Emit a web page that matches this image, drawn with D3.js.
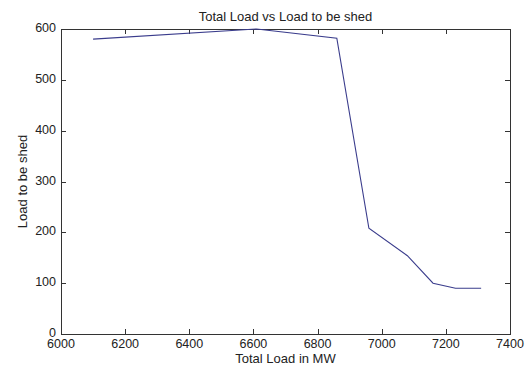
<!DOCTYPE html>
<html>
<head>
  <meta charset="utf-8">
  <script src="https://d3js.org/d3.v7.min.js"></script>
  <style>
    body { margin: 0; background: #fff; }
    text { font-family: "Liberation Sans", Arial, sans-serif; fill: #222; }
  </style>
</head>
<body>
<script>
  // data
  var totalLoad = [6100, 6610, 6860, 6960, 7080, 7160, 7230, 7310];
  var loadShed  = [580, 600, 582, 208, 154, 100, 90, 90];
  var xTicks = [6000, 6200, 6400, 6600, 6800, 7000, 7200, 7400];
  var yTicks = [0, 100, 200, 300, 400, 500, 600];

  var W = 529, H = 365;
  // plot box edges (don't use "top" as a global, it's window.top)
  var pLeft = 61, pRight = 510, pTop = 29, pBottom = 334;

  var svg = d3.select("body").append("svg")
      .attr("width", W).attr("height", H);

  var x = d3.scaleLinear().domain([6000, 7400]).range([pLeft, pRight]);
  var y = d3.scaleLinear().domain([0, 600]).range([pBottom, pTop]);

  var axisColor = "#333";
  var tl = 5; // inward tick length

  // box
  svg.append("rect")
      .attr("x", pLeft + 0.5).attr("y", pTop + 0.5)
      .attr("width", pRight - pLeft).attr("height", pBottom - pTop)
      .attr("fill", "none").attr("stroke", axisColor).attr("stroke-width", 1);

  // x ticks: bottom and top, pointing in
  var xg = svg.append("g");
  xTicks.forEach(function (t) {
    var px = Math.round(x(t)) + 0.5;
    xg.append("line").attr("x1", px).attr("x2", px)
        .attr("y1", pBottom).attr("y2", pBottom - tl).attr("stroke", axisColor);
    xg.append("line").attr("x1", px).attr("x2", px)
        .attr("y1", pTop).attr("y2", pTop + tl).attr("stroke", axisColor);
    xg.append("text").attr("x", x(t)).attr("y", pBottom + 14)
        .attr("text-anchor", "middle").style("font-size", "12.5px").text(t);
  });

  // y ticks: left and right, pointing in
  var yg = svg.append("g");
  yTicks.forEach(function (t) {
    var py = Math.round(y(t)) + 0.5;
    yg.append("line").attr("x1", pLeft).attr("x2", pLeft + tl)
        .attr("y1", py).attr("y2", py).attr("stroke", axisColor);
    yg.append("line").attr("x1", pRight).attr("x2", pRight - tl)
        .attr("y1", py).attr("y2", py).attr("stroke", axisColor);
    yg.append("text").attr("x", pLeft - 5).attr("y", y(t) + 3)
        .attr("text-anchor", "end").style("font-size", "12.5px").text(t);
  });

  // the line
  var pts = totalLoad.map(function (d, i) { return [d, loadShed[i]]; });
  svg.append("path")
      .datum(pts)
      .attr("d", d3.line().x(function (d) { return x(d[0]); }).y(function (d) { return y(d[1]); }))
      .attr("fill", "none")
      .attr("stroke", "#3a3c8c")
      .attr("stroke-width", 1.1);

  // titles
  svg.append("text").attr("x", (pLeft + pRight) / 2).attr("y", 21)
      .attr("text-anchor", "middle").style("font-size", "13px")
      .text("Total Load vs Load to be shed");

  svg.append("text").attr("x", (pLeft + pRight) / 2).attr("y", 363)
      .attr("text-anchor", "middle").style("font-size", "13px")
      .text("Total Load in MW");

  svg.append("text")
      .attr("transform", "translate(27," + ((pTop + pBottom) / 2) + ") rotate(-90)")
      .attr("text-anchor", "middle").style("font-size", "13px")
      .text("Load to be shed");
</script>
</body>
</html>
